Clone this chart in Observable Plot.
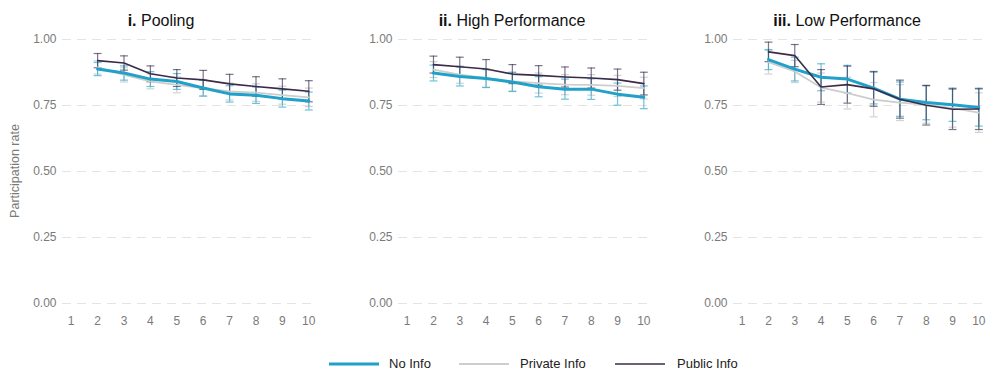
<!DOCTYPE html>
<html>
<head>
<meta charset="utf-8">
<script src="https://cdn.jsdelivr.net/npm/d3@7"></script>
<script src="https://cdn.jsdelivr.net/npm/@observablehq/plot@0.6"></script>
<style>
  body { margin: 0; background: #fff; font-family: "Liberation Sans", Arial, Helvetica, sans-serif; }
  #wrap { position: relative; width: 987px; height: 374px; overflow: hidden; }
  .panel { position: absolute; top: 0; }
  .title { position: absolute; top: 13px; width: 320px; text-align: center; font-size: 16px; line-height: 16px; color: #111; white-space: nowrap; }
  .ylab { position: absolute; left: 15px; top: 171px; transform: translate(-50%, -50%) rotate(-90deg); font-size: 12.5px; color: #7a7a7a; white-space: nowrap; }
  .leg-text { position: absolute; top: 357px; font-size: 13px; line-height: 14px; color: #222; white-space: nowrap; }
  .leg-sw { position: absolute; top: 360px; }
</style>
</head>
<body>
<div id="wrap"></div>
<script>
// ---- data ----
const rounds = [2, 3, 4, 5, 6, 7, 8, 9, 10];
const xTicks = [1, 2, 3, 4, 5, 6, 7, 8, 9, 10];
const yTicks = [0, 0.25, 0.5, 0.75, 1];
const treatments = ["No Info", "Private Info", "Public Info"];
const colors = ["#1fa1c9", "#cdcdcd", "#3b2b49"];
const lineWidths = [3, 1.8, 1.6];
const panelTitlesBold = ["i.", "ii.", "iii."];
const panelTitles = ["Pooling", "High Performance", "Low Performance"];

// Pooling
const poolNoInfo      = [0.888, 0.873, 0.850, 0.841, 0.816, 0.794, 0.789, 0.776, 0.767];
const poolNoInfoCI    = [0.025, 0.027, 0.028, 0.030, 0.030, 0.031, 0.031, 0.032, 0.034];
const poolPrivate     = [0.894, 0.866, 0.841, 0.828, 0.816, 0.803, 0.799, 0.789, 0.781];
const poolPrivateCI   = [0.025, 0.027, 0.028, 0.030, 0.031, 0.032, 0.033, 0.034, 0.035];
const poolPublic      = [0.920, 0.911, 0.870, 0.854, 0.847, 0.832, 0.822, 0.813, 0.804];
const poolPublicCI    = [0.027, 0.027, 0.030, 0.032, 0.036, 0.036, 0.037, 0.038, 0.040];

// High Performance
const highNoInfo      = [0.873, 0.860, 0.852, 0.839, 0.821, 0.812, 0.812, 0.793, 0.781];
const highNoInfoCI    = [0.030, 0.036, 0.034, 0.036, 0.038, 0.038, 0.039, 0.042, 0.043];
const highPrivate     = [0.886, 0.867, 0.854, 0.841, 0.835, 0.829, 0.828, 0.824, 0.816];
const highPrivateCI   = [0.030, 0.033, 0.035, 0.036, 0.038, 0.038, 0.039, 0.040, 0.041];
const highPublic      = [0.905, 0.897, 0.888, 0.869, 0.864, 0.858, 0.854, 0.848, 0.833];
const highPublicCI    = [0.032, 0.036, 0.036, 0.036, 0.037, 0.038, 0.038, 0.040, 0.043];

// Low Performance
const lowNoInfo       = [0.924, 0.888, 0.857, 0.850, 0.816, 0.774, 0.761, 0.753, 0.742];
const lowNoInfoCI     = [0.038, 0.045, 0.051, 0.052, 0.060, 0.065, 0.065, 0.063, 0.070];
const lowPrivate      = [0.914, 0.879, 0.818, 0.797, 0.772, 0.761, 0.753, 0.740, 0.723];
const lowPrivateCI    = [0.045, 0.042, 0.055, 0.060, 0.065, 0.068, 0.070, 0.072, 0.075];
const lowPublic       = [0.953, 0.939, 0.820, 0.829, 0.813, 0.774, 0.751, 0.736, 0.737];
const lowPublicCI     = [0.037, 0.042, 0.066, 0.070, 0.066, 0.072, 0.075, 0.077, 0.078];

// ---- build tables ----
function table(series) {
  const rows = [];
  series.forEach(([mean, ci], k) => {
    rounds.forEach((r, i) => rows.push({
      round: r, treatment: treatments[k], mean: mean[i],
      lo: mean[i] - ci[i], hi: mean[i] + ci[i]
    }));
  });
  return rows;
}
const panelsData = [
  table([[poolNoInfo, poolNoInfoCI], [poolPrivate, poolPrivateCI], [poolPublic, poolPublicCI]]),
  table([[highNoInfo, highNoInfoCI], [highPrivate, highPrivateCI], [highPublic, highPublicCI]]),
  table([[lowNoInfo, lowNoInfoCI], [lowPrivate, lowPrivateCI], [lowPublic, lowPublicCI]])
];

// layout
const layout = [
  {left: 0,   width: 320, marginLeft: 62, marginRight: 3, titleCenter: 161},
  {left: 330, width: 325, marginLeft: 68, marginRight: 3, titleCenter: 512},
  {left: 665, width: 322, marginLeft: 68, marginRight: 0, titleCenter: 847}
];

const wrap = document.getElementById("wrap");
const capHalf = 0.15;

panelsData.forEach((data, p) => {
  const L = layout[p];
  const marks = [
    Plot.gridY(yTicks, {stroke: "#e4e4e4", strokeOpacity: 1, strokeWidth: 1, strokeDasharray: "9,6"}),
    Plot.axisX(xTicks, {tickSize: 0, tickPadding: 13, fontSize: 12, fill: "#7a7a7a", label: null, tickFormat: d => String(d)}),
    Plot.axisY(yTicks, {tickSize: 0, tickPadding: 6, fontSize: 12, fill: "#7a7a7a", label: null, tickFormat: d3.format(".2f")})
  ];
  // error bars: Private first, then No Info, then Public
  [1, 0, 2].forEach(k => {
    const sub = data.filter(d => d.treatment === treatments[k]);
    const st = {stroke: colors[k], strokeOpacity: k === 1 ? 0.9 : 0.65, strokeWidth: 1.2};
    marks.push(Plot.ruleX(sub, {x: "round", y1: "lo", y2: "hi", ...st}));
    marks.push(Plot.link(sub, {x1: d => d.round - capHalf, x2: d => d.round + capHalf, y1: "hi", y2: "hi", ...st}));
    marks.push(Plot.link(sub, {x1: d => d.round - capHalf, x2: d => d.round + capHalf, y1: "lo", y2: "lo", ...st}));
  });
  // lines: Private, No Info, Public
  [1, 0, 2].forEach(k => {
    const sub = data.filter(d => d.treatment === treatments[k]);
    marks.push(Plot.line(sub, {x: "round", y: "mean", stroke: colors[k], strokeWidth: lineWidths[k]}));
  });

  const svg = Plot.plot({
    width: L.width, height: 335,
    marginLeft: L.marginLeft, marginRight: L.marginRight, marginTop: 39, marginBottom: 32,
    x: {domain: [0.67, 10.33]},
    y: {domain: [0, 1]},
    style: {fontFamily: '"Liberation Sans", Arial, sans-serif', fontSize: "12px", background: "transparent", overflow: "visible"},
    marks
  });
  const holder = document.createElement("div");
  holder.className = "panel";
  holder.style.left = L.left + "px";
  holder.appendChild(svg);
  wrap.appendChild(holder);

  const t = document.createElement("div");
  t.className = "title";
  t.style.left = (L.titleCenter - 160) + "px";
  const b = document.createElement("b");
  b.textContent = panelTitlesBold[p];
  t.appendChild(b);
  t.appendChild(document.createTextNode(" " + panelTitles[p]));
  wrap.appendChild(t);
});

// y label
const yl = document.createElement("div");
yl.className = "ylab";
yl.textContent = "Participation rate";
wrap.appendChild(yl);

// legend
const legPos = [
  {sw: 329, tx: 389},
  {sw: 459, tx: 520},
  {sw: 615, tx: 677}
];
treatments.forEach((name, k) => {
  const ns = "http://www.w3.org/2000/svg";
  const s = document.createElementNS(ns, "svg");
  s.setAttribute("width", 50); s.setAttribute("height", 8);
  s.setAttribute("class", "leg-sw");
  s.style.left = legPos[k].sw + "px";
  const ln = document.createElementNS(ns, "line");
  ln.setAttribute("x1", 0); ln.setAttribute("x2", 50);
  ln.setAttribute("y1", 4); ln.setAttribute("y2", 4);
  ln.setAttribute("stroke", colors[k]);
  ln.setAttribute("stroke-width", lineWidths[k]);
  s.appendChild(ln);
  wrap.appendChild(s);
  const tx = document.createElement("div");
  tx.className = "leg-text";
  tx.style.left = legPos[k].tx + "px";
  tx.textContent = name;
  wrap.appendChild(tx);
});
</script>
</body>
</html>
